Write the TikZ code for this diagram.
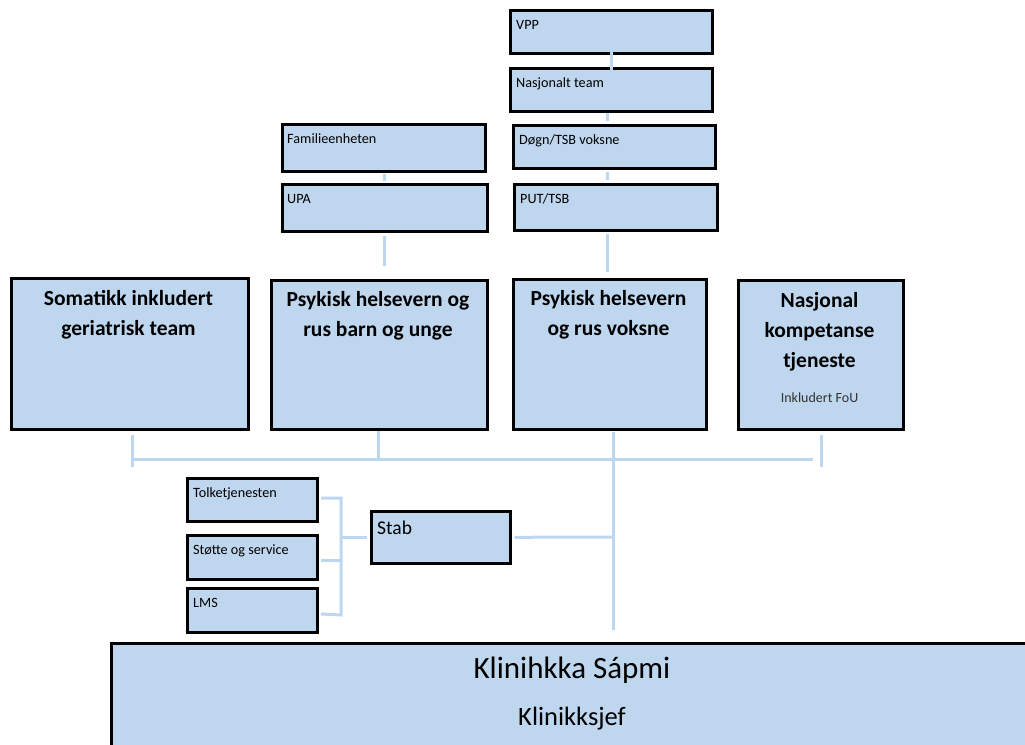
\documentclass[tikz,border=0pt]{standalone}
\usepackage{fontspec}
\setmainfont{Carlito}
\definecolor{boxblue}{RGB}{190,214,238}
\definecolor{linkblue}{RGB}{189,215,240}
\begin{document}
\begin{tikzpicture}[x=1pt,y=-1pt,
  box/.style={draw=black,line width=2.6pt,fill=boxblue,inner sep=0pt,anchor=north west},
  conn/.style={draw=linkblue,line width=3pt},
  small/.style={anchor=base west,inner sep=0pt,font=\fontsize{14.2}{17}\selectfont},
  big/.style={anchor=base,inner sep=0pt,font=\fontsize{21.5}{30}\selectfont\bfseries,align=center}]
\useasboundingbox (0,0) rectangle (1025,744);
\clip (0,0) rectangle (1025,744);
\newcommand\mkbox[5]{\node[box,minimum width={(#4-#2)*1pt},minimum height={(#5-#3)*1pt}] (#1) at (#2,#3) {};}
% top right column
\mkbox{vpp}{509}{9}{711}{52}
\mkbox{nt}{509}{67}{711}{110}
\mkbox{dogn}{512}{124}{714}{167}
\mkbox{put}{513}{183}{716}{229}
\node[small] (tvpp) at ([shift={(7,20)}]vpp.north west) {VPP};
\node[small] (tnt) at ([shift={(7,20)}]nt.north west) {Nasjonalt team};
\node[small] (tdogn) at ([shift={(7,20)}]dogn.north west) {Døgn/TSB voksne};
\node[small] (tput) at ([shift={(7,20)}]put.north west) {PUT/TSB};
% top left column
\mkbox{fam}{281}{123}{484}{170}
\mkbox{upa}{281}{183}{486}{230}
\node[small] (tfam) at ([shift={(6,20)}]fam.north west) {Familieenheten};
\node[small] (tupa) at ([shift={(6,20)}]upa.north west) {UPA};
% main boxes
\mkbox{som}{10}{277}{247}{428}
\mkbox{pbu}{270}{279}{486}{428}
\mkbox{pv}{512}{278}{705}{428}
\mkbox{nk}{737}{279}{902}{428}
\node[big] (tsom) at (128.5,335) {Somatikk inkludert\\geriatrisk team};
\node[big] (tpbu) at (378,336) {Psykisk helsevern og\\rus barn og unge};
\node[big] (tpv) at (608.5,335) {Psykisk helsevern\\og rus voksne};
\node[big] (tnk) at (819.5,367) {Nasjonal\\kompetanse\\tjeneste};
\node[anchor=base,inner sep=0pt,font=\fontsize{14}{16}\selectfont,text=black!80] (tfou) at (819.5,402) {Inkludert FoU};
% staff
\mkbox{tolk}{186}{477}{316}{520}
\mkbox{stotte}{186}{534}{316}{578}
\mkbox{lms}{186}{587}{316}{631}
\mkbox{stab}{370}{510}{509}{562}
\node[small] (ttolk) at ([shift={(7,20)}]tolk.north west) {Tolketjenesten};
\node[small] (tstotte) at ([shift={(7,20)}]stotte.north west) {Støtte og service};
\node[small] (tlms) at ([shift={(7,20)}]lms.north west) {LMS};
\node[anchor=base west,inner sep=0pt,font=\fontsize{19.5}{23}\selectfont] (tstab) at ([shift={(7,24)}]stab.north west) {Stab};
% bottom
\mkbox{kl}{110}{642}{1040}{760}
\node[anchor=base,inner sep=0pt,font=\fontsize{31}{36}\selectfont] (tkl) at (572,678) {Klinihkka Sápmi};
\node[anchor=base,inner sep=0pt,font=\fontsize{26.5}{30}\selectfont] (tks) at (572,725) {Klinikksjef};
% coordinates for connectors
\coordinate (bl) at (132,459);
\coordinate (br) at (813,459);
\coordinate (bv) at (613,459);
\coordinate (bp) at (378,459);
\coordinate (sj) at (613,537);
\coordinate (bt) at (341,498);
\coordinate (bb) at (341,615);
\coordinate (bm) at (341,537);
% connectors top
\draw[conn] ([yshift=4pt]vpp.south) -- ([yshift=-3pt]nt.north);
\draw[conn] (607,113) -- (607,121);
\draw[conn] (607,172) -- (607,180);
\draw[conn] (607,234) -- (607,272);
\draw[conn] (384,174) -- (384,181);
\draw[conn] (384,236) -- (384,266);
% bus
\draw[conn] (bl) -- (br);
\draw[conn] (132,435) -- (132,467);
\draw[conn] (pbu.south -| bp) -- (bp);
\draw[conn] (613,432) -- (613,630);
\draw[conn] (821,435) -- (821,467);
% staff connectors
\draw[conn] (stab.east) ++(3,0) -- (sj);
\draw[conn] (321,498) -- (bt) -- (bb) -- (321,614);
\draw[conn] (321,560) -- (341,560);
\draw[conn] (bm) -- (367,537);
\end{tikzpicture}
\end{document}
